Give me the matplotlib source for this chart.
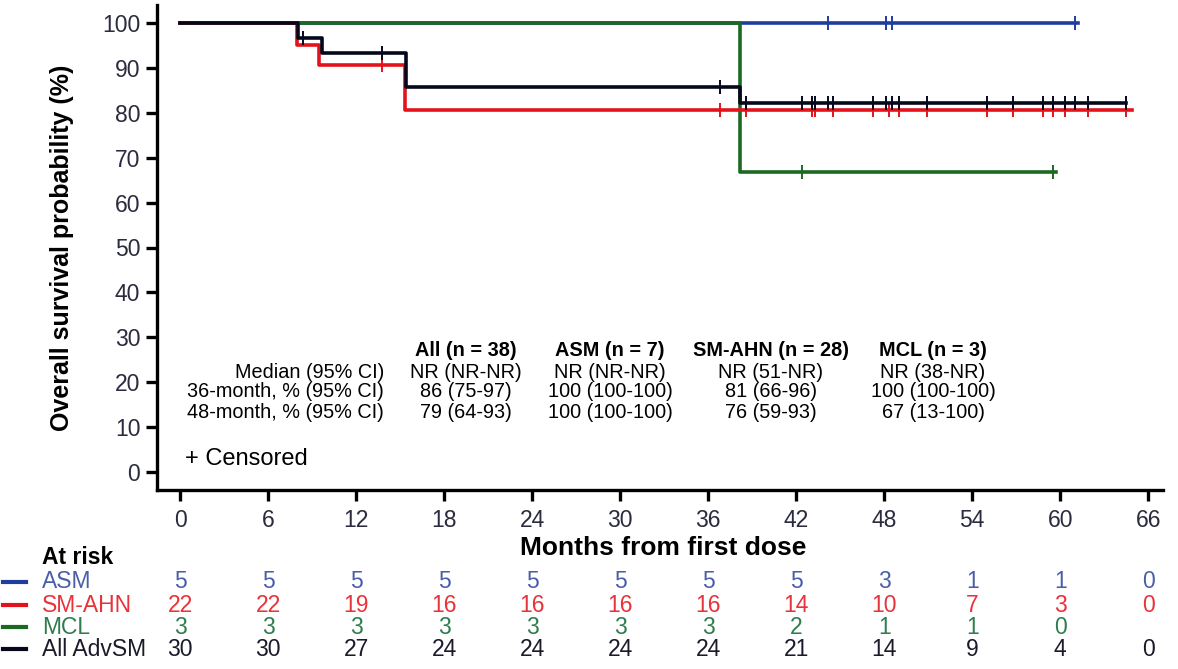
import numpy as np
import matplotlib
matplotlib.use('Agg')
import matplotlib.pyplot as plt
from matplotlib import font_manager
from matplotlib.lines import Line2D
from matplotlib.transforms import blended_transform_factory

# ---------------- data ----------------
x_ticks = list(range(0, 67, 6))
y_ticks = list(range(0, 101, 10))

asm_times = [0, 61.2]
asm_surv = [100, 100]
asm_censor = [44.2, 48.1, 48.5, 61.0]

sm_times = [0, 8.0, 9.5, 15.3, 64.9]
sm_surv = [100, 95.1, 90.6, 80.6, 80.6]
sm_censor = [13.8, 36.8, 38.6, 43.1, 43.3, 44.5, 47.2, 48.3, 49.0, 50.9,
             55.0, 56.8, 58.8, 59.5, 60.3, 61.9, 64.5]

mcl_times = [0, 38.2, 59.7]
mcl_surv = [100, 66.8, 66.8]
mcl_censor = [42.4, 59.5]

all_times = [0, 8.07, 9.66, 15.4, 38.2, 64.5]
all_surv = [100, 96.6, 93.4, 85.8, 82.1, 82.1]
all_censor = [8.4, 13.8, 36.8, 38.6, 42.4, 43.1, 43.3, 44.2, 44.5, 47.2, 48.1,
              48.5, 49.0, 50.9, 55.0, 56.8, 58.8, 59.5, 60.3, 61.0, 61.9, 64.5]

risk_labels = ['ASM', 'SM-AHN', 'MCL', 'All AdvSM']
risk_asm = [5, 5, 5, 5, 5, 5, 5, 5, 3, 1, 1, 0]
risk_sm = [22, 22, 19, 16, 16, 16, 16, 14, 10, 7, 3, 0]
risk_mcl = [3, 3, 3, 3, 3, 3, 3, 2, 1, 1, 0]
risk_all = [30, 30, 27, 24, 24, 24, 24, 21, 14, 9, 4, 0]

stat_rows = ['Median (95% CI)', '36-month, % (95% CI)', '48-month, % (95% CI)']
stat_headers = ['All (n = 38)', 'ASM (n = 7)', 'SM-AHN (n = 28)', 'MCL (n = 3)']
stat_all = ['NR (NR-NR)', '86 (75-97)', '79 (64-93)']
stat_asm = ['NR (NR-NR)', '100 (100-100)', '100 (100-100)']
stat_sm = ['NR (51-NR)', '81 (66-96)', '76 (59-93)']
stat_mcl = ['NR (38-NR)', '100 (100-100)', '67 (13-100)']

# ---------------- style ----------------
plt.rcParams['font.family'] = ['Liberation Sans', 'DejaVu Sans']
names = {f.name for f in font_manager.fontManager.ttflist}
narrow = 'Liberation Sans Narrow' if 'Liberation Sans Narrow' in names else 'Liberation Sans'
narrow_size = 16 if narrow == 'Liberation Sans Narrow' else 14.3

c_asm, c_sm, c_mcl, c_all = '#1f3d9e', '#e3121b', '#1b6a22', '#05081a'
t_asm, t_sm, t_mcl, t_all = '#4a5fa8', '#e8333a', '#2f7d4e', '#1a1a2a'
tick_col = '#2b2b3f'

W, H = 1178, 669
fig = plt.figure(figsize=(W / 100, H / 100), dpi=100)
ax = fig.add_axes([157 / W, 1 - 490 / H, (1163 - 157) / W, (490 - 5) / H])

def px(x, y):
    return x / W, 1 - y / H

def level(times, surv, t):
    idx = np.searchsorted(np.asarray(times), np.asarray(t), side='right') - 1
    return np.asarray(surv)[idx]

series = [
    (asm_times, asm_surv, asm_censor, c_asm),
    (mcl_times, mcl_surv, mcl_censor, c_mcl),
    (sm_times, sm_surv, sm_censor, c_sm),
    (all_times, all_surv, all_censor, c_all),
]
for i, (tt, ss, cc, col) in enumerate(series):
    ax.step(tt, ss, where='post', color=col, lw=2.6, zorder=2 + i)
    ax.plot(cc, level(tt, ss, cc), ls='none', marker='|', ms=9.5, mew=1.4,
            color=col, zorder=2 + i)

ax.set_xlim(-1.57, 67.0)
ax.set_ylim(-4.0, 104.0)
ax.set_xticks(x_ticks)
ax.set_yticks(y_ticks)
for s in ['top', 'right']:
    ax.spines[s].set_visible(False)
for s in ['left', 'bottom']:
    ax.spines[s].set_linewidth(2.4)
ax.tick_params(axis='both', width=2.4, length=8, labelsize=16.5, labelcolor=tick_col)
ax.tick_params(axis='x', pad=6)
ax.tick_params(axis='y', pad=4)
ax.set_ylabel('Overall survival probability (%)', fontsize=18, fontweight='bold', labelpad=20)
fig.text(*px(663, 548), 'Months from first dose', fontsize=19, fontweight='bold',
         ha='center', va='center')

# stats table
row_y = [372, 392, 413]
col_x = [466, 610, 771, 933]
for lbl, y in zip(stat_rows, row_y):
    fig.text(*px(384, y), lbl, fontsize=narrow_size, family=narrow, ha='right', va='center')
cols = [stat_all, stat_asm, stat_sm, stat_mcl]
for hdr, vals, x in zip(stat_headers, cols, col_x):
    fig.text(*px(x, 351), hdr, fontsize=narrow_size, family=narrow, fontweight='bold',
             ha='center', va='center')
    for v, y in zip(vals, row_y):
        fig.text(*px(x, y), v, fontsize=narrow_size, family=narrow, ha='center', va='center')

fig.text(*px(185, 459), '+ Censored', fontsize=17, ha='left', va='center')

# at-risk table
fig.text(*px(42, 558), 'At risk', fontsize=16.5, fontweight='bold', ha='left', va='center')
trans = blended_transform_factory(ax.transData, fig.transFigure)
risk_rows = [risk_asm, risk_sm, risk_mcl, risk_all]
line_cols = [c_asm, c_sm, c_mcl, c_all]
text_cols = [t_asm, t_sm, t_mcl, t_all]
risk_y = [582, 605, 627, 649]
for lbl, vals, lc, tc, y in zip(risk_labels, risk_rows, line_cols, text_cols, risk_y):
    fy = 1 - y / H
    fig.add_artist(Line2D([3 / W, 26 / W], [fy, fy], color=lc, lw=3))
    fig.text(42 / W, fy, lbl, fontsize=16.5, color=tc, ha='left', va='center')
    for xv, v in zip(x_ticks, vals):
        ax.text(xv, fy, str(v), transform=trans, fontsize=16.5, color=tc,
                ha='center', va='center', clip_on=False)

fig.savefig('out.png', dpi=100)
